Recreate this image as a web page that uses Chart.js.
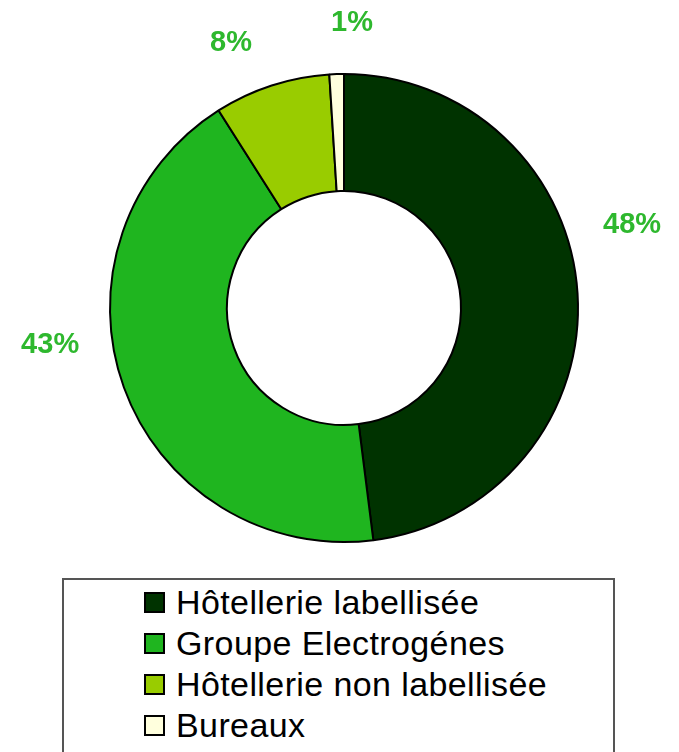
<!DOCTYPE html>
<html>
<head>
<meta charset="utf-8">
<script src="https://cdn.jsdelivr.net/npm/chart.js@4"></script>
<style>
  html, body { margin:0; padding:0; background:#fff; }
  #wrap { position:relative; width:679px; height:752px; overflow:hidden; }
  #c { position:absolute; left:0; top:0; }
  #legend { position:absolute; left:62px; top:578px; width:553px; height:200px;
    border:2px solid #555; box-sizing:border-box; background:#fff; }
  .item { position:absolute; left:80px; height:41px; display:flex; align-items:center;
    font-family:"Liberation Sans", Arial, sans-serif; font-size:34px; color:#000; white-space:nowrap; letter-spacing:0.4px; }
  .sw { width:17px; height:17px; border:2px solid #000; margin-right:11px; flex:none; }
</style>
</head>
<body>
<div id="wrap">
  <canvas id="c" width="679" height="752"></canvas>
  <div id="legend"></div>
</div>
<script>
const categories = ["Hôtellerie labellisée", "Groupe Electrogénes", "Hôtellerie non labellisée", "Bureaux"];
const values = [48, 43, 8, 1];
const percentLabels = ["48%", "43%", "8%", "1%"];
const colors = ["#003300", "#1fb51f", "#99cc00", "#ffffdd"];
// label placement: angle (deg, clockwise from top) and distance from centre (px)
const labelAngles = [73.8, 263.1, 337.0, 1.6];
const labelDist = [300, 296, 289, 286];

const labelPlugin = {
  id: 'pctLabels',
  afterDatasetsDraw(chart) {
    const ctx = chart.ctx;
    const meta = chart.getDatasetMeta(0);
    ctx.save();
    ctx.font = 'bold 29px "Liberation Sans", Arial, sans-serif';
    ctx.fillStyle = '#2eb82e';
    ctx.textAlign = 'center';
    ctx.textBaseline = 'middle';
    meta.data.forEach((arc, i) => {
      const a = labelAngles[i] * Math.PI / 180;
      const x = arc.x + labelDist[i] * Math.sin(a);
      const y = arc.y - labelDist[i] * Math.cos(a);
      ctx.fillText(percentLabels[i], x, y + 1);
    });
    ctx.restore();
  }
};

new Chart(document.getElementById('c'), {
  type: 'doughnut',
  data: {
    labels: categories,
    datasets: [{
      data: values,
      backgroundColor: colors,
      borderColor: '#000',
      borderWidth: 2,
      hoverOffset: 0,
      offset: 0
    }]
  },
  options: {
    responsive: false,
    animation: false,
    cutout: '50%',
    layout: { padding: { left: 109, right: 100, top: 73, bottom: 209 } },
    plugins: { legend: { display: false }, tooltip: { enabled: false } }
  },
  plugins: [labelPlugin]
});

const lg = document.getElementById('legend');
categories.forEach((name, i) => {
  const d = document.createElement('div');
  d.className = 'item';
  d.style.top = (2 + i * 41) + 'px';
  const s = document.createElement('span');
  s.className = 'sw';
  s.style.background = colors[i];
  d.appendChild(s);
  d.appendChild(document.createTextNode(name));
  lg.appendChild(d);
});
</script>
</body>
</html>
